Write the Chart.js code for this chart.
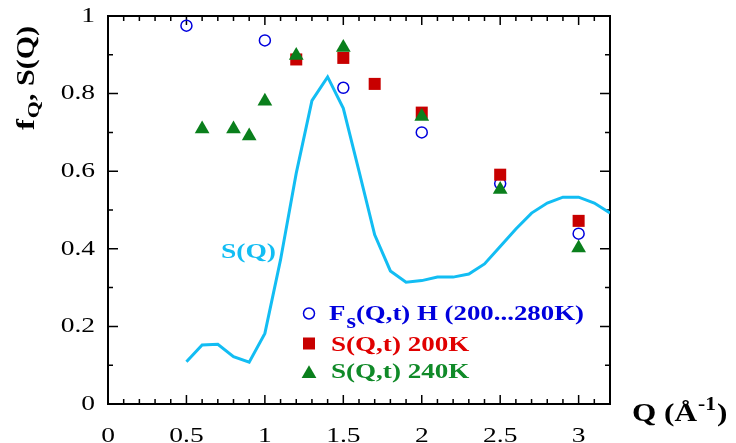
<!DOCTYPE html>
<html><head><meta charset="utf-8">
<script src="https://cdn.jsdelivr.net/npm/chart.js@4"></script>
<style>html,body{margin:0;padding:0;background:#fff;}canvas{display:block;}</style>
</head><body>
<canvas id="c" width="736" height="443"></canvas>
<script>
// ---- data ----
const sqQ = [0.5,0.6,0.7,0.8,0.9,1.0,1.1,1.2,1.3,1.4,1.5,1.6,1.7,1.8,1.9,2.0,2.1,2.2,2.3,2.4,2.5,2.6,2.7,2.8,2.9,3.0,3.1,3.2];
const sqValues = [0.109,0.152,0.154,0.122,0.108,0.182,0.372,0.595,0.782,0.843,0.762,0.600,0.436,0.343,0.314,0.318,0.327,0.327,0.335,0.361,0.406,0.451,0.492,0.518,0.533,0.533,0.518,0.492];
const fsQ = [0.5,1.0,1.5,2.0,2.5,3.0];
const fsValues = [0.975,0.937,0.815,0.700,0.568,0.439];
const s200Q = [1.2,1.5,1.7,2.0,2.5,3.0];
const s200Values = [0.888,0.892,0.825,0.751,0.591,0.472];
const s240Q = [0.6,0.8,0.9,1.0,1.2,1.5,2.0,2.5,3.0];
const s240Values = [0.709,0.709,0.691,0.780,0.898,0.919,0.741,0.553,0.402];
const xTickLabels = ['0','0.5','1','1.5','2','2.5','3'];
const yTickLabels = ['0','0.2','0.4','0.6','0.8','1'];
const legendLabels = ['(Q,t) H (200...280K)','S(Q,t) 200K','S(Q,t) 240K'];

const SERIF = '"Liberation Serif", "Times New Roman", serif';
const SX = 1.25;
const C_LINE = '#12BDF3', C_BLUE = '#0000DD', C_RED = '#C80000', C_GREEN = '#0A7F1C';
const C_RED_T = '#E00000', C_GREEN_T = '#108A28';

const toXY = (xs, ys) => xs.map((x, i) => ({x, y: ys[i]}));

function txt(ctx, s, x, y, font, color, sx) {
  ctx.save();
  ctx.font = font; ctx.fillStyle = color;
  ctx.textAlign = 'left'; ctx.textBaseline = 'alphabetic';
  ctx.translate(x, y); ctx.scale(sx === undefined ? SX : sx, 1);
  ctx.fillText(s, 0, 0);
  const w = ctx.measureText(s).width * (sx === undefined ? SX : sx);
  ctx.restore();
  return w;
}

const stretchPlugin = {
  id: 'stretch',
  beforeDraw(chart) {
    const ctx = chart.ctx;
    const orig = CanvasRenderingContext2D.prototype.fillText;
    ctx.fillText = function (t, x, y, mw) {
      this.save(); this.translate(x, y); this.scale(SX, 1);
      if (mw === undefined) orig.call(this, t, 0, 0); else orig.call(this, t, 0, 0, mw / SX);
      this.restore();
    };
  },
  beforeDatasetsDraw(chart) {
    delete chart.ctx.fillText;
    const ctx = chart.ctx, a = chart.chartArea;
    const xs = chart.scales.x, ys = chart.scales.y;
    ctx.save();
    ctx.strokeStyle = '#000'; ctx.lineWidth = 2;
    ctx.strokeRect(a.left, a.top, a.right - a.left, a.bottom - a.top);
    ctx.lineWidth = 1.5;
    ctx.beginPath();
    for (let i = 1; i < 32; i++) {
      const px = xs.getPixelForValue(i / 10);
      const len = i % 5 === 0 ? 9 : 5;
      ctx.moveTo(px, a.bottom); ctx.lineTo(px, a.bottom - len);
      ctx.moveTo(px, a.top); ctx.lineTo(px, a.top + len);
    }
    for (let i = 1; i < 10; i++) {
      const py = ys.getPixelForValue(i / 10);
      const len = i % 2 === 0 ? 10 : 5;
      ctx.moveTo(a.left, py); ctx.lineTo(a.left + len, py);
      ctx.moveTo(a.right, py); ctx.lineTo(a.right - len, py);
    }
    ctx.stroke();
    ctx.restore();
  },
  afterDraw(chart) {
    const ctx = chart.ctx;
    const B = (n) => 'bold ' + n + 'px ' + SERIF;
    // S(Q) label
    txt(ctx, 'S(Q)', 221, 258, B(22), C_LINE);
    // legend markers
    ctx.save();
    ctx.lineWidth = 1.5; ctx.strokeStyle = C_BLUE;
    ctx.beginPath(); ctx.arc(309, 313.5, 5.5, 0, Math.PI * 2); ctx.stroke();
    ctx.fillStyle = C_RED; ctx.fillRect(303, 337.5, 12, 12);
    ctx.fillStyle = C_GREEN;
    const r = 8.5, cx = 309, cy = 373.8;
    ctx.beginPath();
    ctx.moveTo(cx, cy - r);
    ctx.lineTo(cx + r * Math.sin(2 * Math.PI / 3), cy - r * Math.cos(2 * Math.PI / 3));
    ctx.lineTo(cx + r * Math.sin(4 * Math.PI / 3), cy - r * Math.cos(4 * Math.PI / 3));
    ctx.closePath(); ctx.fill();
    ctx.restore();
    // legend texts
    let x = 329;
    x += txt(ctx, 'F', x, 320, B(22), C_BLUE, 1.22);
    x += txt(ctx, 's', x + 1, 328, B(20), C_BLUE, 1.22) + 1;
    txt(ctx, legendLabels[0], x, 320, B(22), C_BLUE, 1.22);
    txt(ctx, legendLabels[1], 331, 351, B(22), C_RED_T, 1.23);
    txt(ctx, legendLabels[2], 331, 378, B(22), C_GREEN_T, 1.23);
    // x title
    let tx = 632;
    tx += txt(ctx, 'Q (Å', tx, 421, B(26), '#000', 1.2);
    tx += txt(ctx, '-1', tx + 1, 410, B(18), '#000', 1.2) + 1;
    txt(ctx, ')', tx + 1, 421, B(26), '#000', 1.2);
    // y title (rotated)
    ctx.save();
    ctx.translate(34, 130); ctx.rotate(-Math.PI / 2);
    let ty = 0;
    ty += txt(ctx, 'f', ty, 0, B(25), '#000', 1.3);
    ty += txt(ctx, 'Q', ty + 1, 5, B(17), '#000', 1.3) + 1;
    txt(ctx, ', S(Q)', ty, 0, B(25), '#000', 1.2);
    ctx.restore();
  }
};

const tickFont = {family: SERIF, size: 22, weight: 'normal'};

new Chart(document.getElementById('c'), {
  type: 'scatter',
  data: {
    datasets: [
      {label: 'S(Q)', type: 'line', data: toXY(sqQ, sqValues), borderColor: C_LINE, borderWidth: 3,
       pointRadius: 0, tension: 0, fill: false, showLine: true, order: 4},
      {label: 'Fs(Q,t) H (200...280K)', data: toXY(fsQ, fsValues), pointStyle: 'circle', pointRadius: 5.5,
       borderColor: C_BLUE, backgroundColor: 'rgba(0,0,0,0)', borderWidth: 1.5, order: 3},
      {label: 'S(Q,t) 200K', data: toXY(s200Q, s200Values), pointStyle: 'rect', pointRadius: 8.5,
       backgroundColor: C_RED, borderColor: C_RED, borderWidth: 0, order: 2},
      {label: 'S(Q,t) 240K', data: toXY(s240Q, s240Values), pointStyle: 'triangle', pointRadius: 8.5,
       backgroundColor: C_GREEN, borderColor: C_GREEN, borderWidth: 0, order: 1}
    ]
  },
  options: {
    responsive: false, animation: false, devicePixelRatio: 1,
    layout: {padding: {left: 0, top: 16, right: 126, bottom: 0}},
    plugins: {legend: {display: false}, tooltip: {enabled: false}},
    scales: {
      x: {type: 'linear', position: 'bottom', min: 0, max: 3.2,
          afterFit: (s) => { s.height = 39; s.paddingLeft = 0; s.paddingRight = 0; s.paddingTop = 0; s.paddingBottom = 0; },
          grid: {display: false, drawTicks: false}, border: {display: false},
          ticks: {stepSize: 0.5, includeBounds: false, autoSkip: false, maxRotation: 0, padding: 19,
                  font: tickFont, color: '#000', callback: (v, i) => xTickLabels[i]}},
      y: {type: 'linear', position: 'left', min: 0, max: 1,
          afterFit: (s) => { s.width = 108; s.paddingLeft = 0; s.paddingRight = 0; s.paddingTop = 0; s.paddingBottom = 0; },
          grid: {display: false, drawTicks: false}, border: {display: false},
          ticks: {stepSize: 0.2, autoSkip: false, padding: 13,
                  font: tickFont, color: '#000', callback: (v, i) => yTickLabels[i]}}
    }
  },
  plugins: [stretchPlugin]
});
</script>
</body></html>
